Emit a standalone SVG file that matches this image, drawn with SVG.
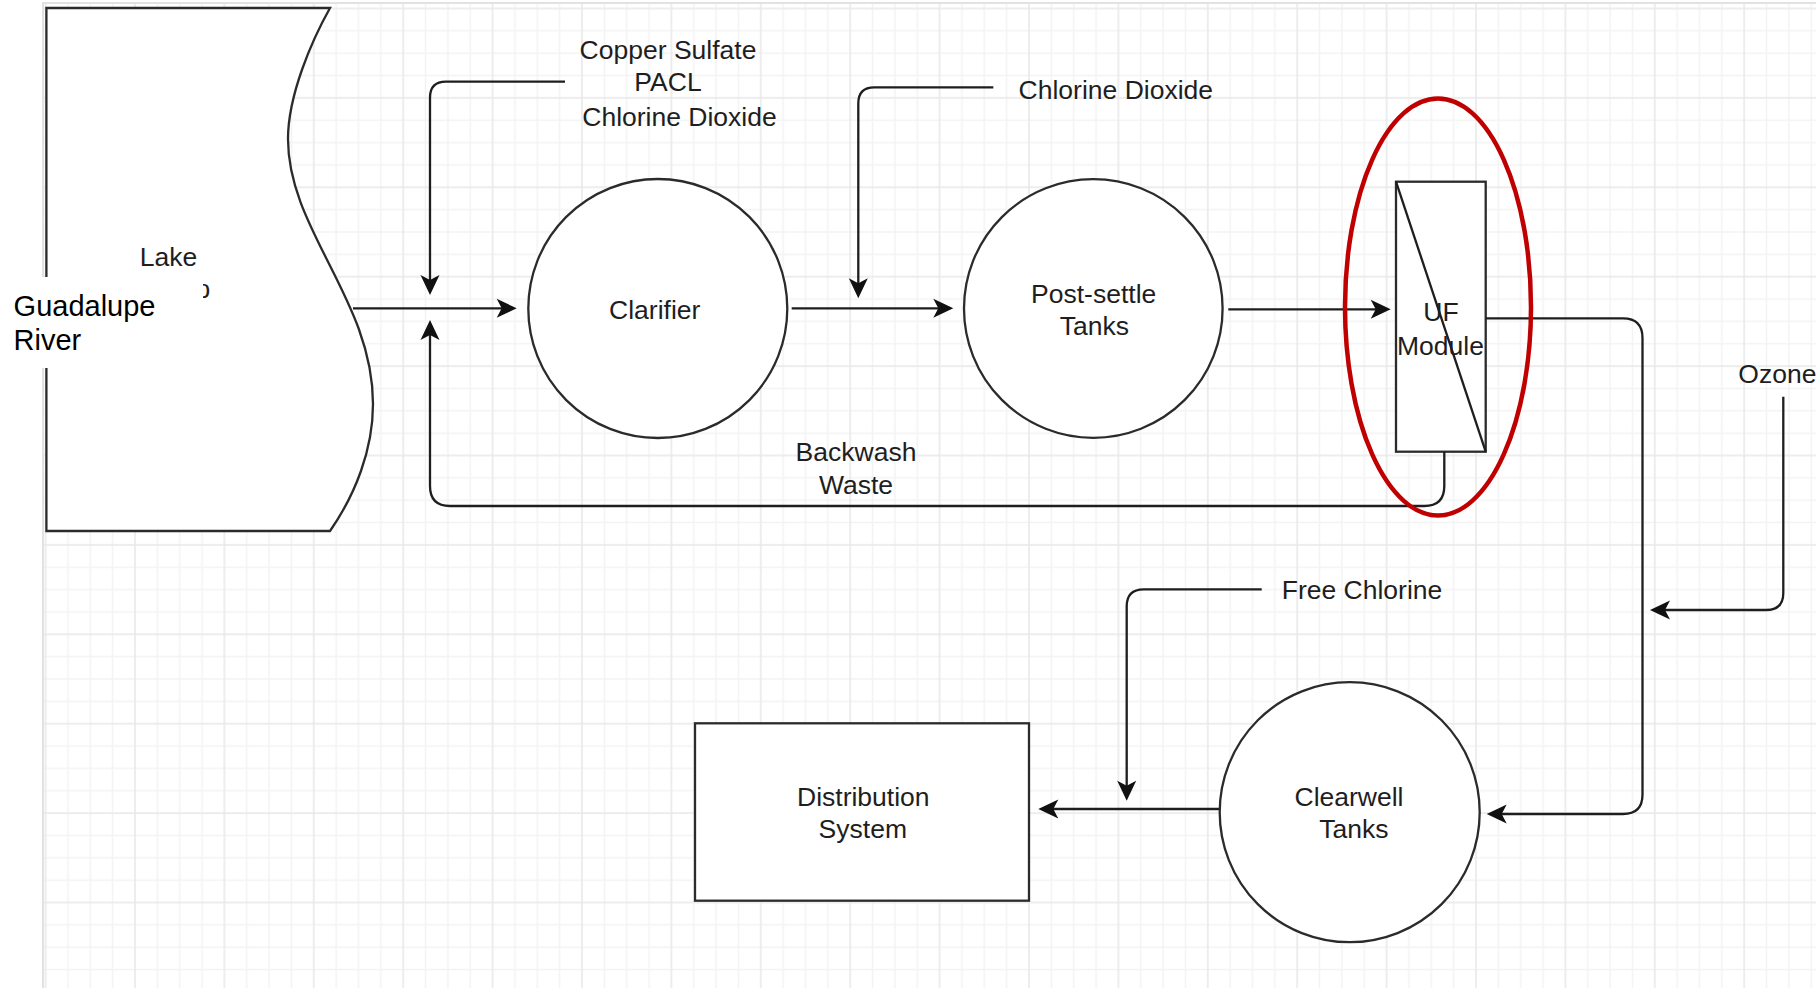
<svg xmlns="http://www.w3.org/2000/svg" width="1816" height="988" viewBox="0 0 1816 988">
  <style>
    .t { font-family: "Liberation Sans", Arial, Helvetica, sans-serif; font-size: 26.5px; fill: #1e1e1e; }
    .c { text-anchor: middle; }
    .g { font-family: "Liberation Sans", Arial, Helvetica, sans-serif; font-size: 29px; fill: #000; }
    .node { fill: #fff; stroke: #2b2b2b; stroke-width: 2.3; }
    .edge { fill: none; stroke: #1e1e1e; stroke-width: 2.3; marker-end: url(#arr); }
    .plain { fill: none; stroke: #1e1e1e; stroke-width: 2.3; }
    .hl { fill: none; stroke: #c00000; stroke-width: 4.5; }
  </style>
  <defs>
    <pattern id="grid" patternUnits="userSpaceOnUse" x="44.6" y="7.5" width="89.4" height="89.4">
      <path d="M23.35 0V89.4M45.7 0V89.4M68.05 0V89.4M0 23.35H89.4M0 45.7H89.4M0 68.05H89.4" stroke="#f3f3f3" stroke-width="1.5" fill="none"/>
      <path d="M1 0V89.4M0 1H89.4" stroke="#e8e8e8" stroke-width="1.5" fill="none"/>
    </pattern>
    <marker id="arr" markerUnits="userSpaceOnUse" markerWidth="26" markerHeight="26" viewBox="-2 -13 26 26" refX="15" refY="0" orient="auto">
      <path d="M0,-9.5 L20,0 L0,9.5 L5,0 Z" fill="#111"/>
    </marker>
    <clipPath id="lakeclip">
      <rect x="203" y="270" width="40" height="40"/>
    </clipPath>
  </defs>

  <rect x="0" y="0" width="1816" height="988" fill="#fff"/>
  <rect x="43" y="3" width="1773" height="985" fill="url(#grid)"/>
  <path d="M43 988V3H1816" fill="none" stroke="#e2e2e2" stroke-width="2"/>

  <g id="lake">
    <path class="node" stroke-width="2.6" d="M46.4,8 H330 C312,40 288,95 288,139 C288,230 373,300 373,404 C373,450 355,495 330,531 H46.4 Z"/>
    <text class="t c" x="168.4" y="266">Lake</text>
    <text class="t" x="195.6" y="298" clip-path="url(#lakeclip)">p</text>
  </g>

  <g id="guadalupe-label">
    <rect x="0" y="277" width="203" height="91" fill="#fff"/>
    <text class="g" x="13.6" y="316">Guadalupe</text>
    <text class="g" x="13.6" y="350">River</text>
  </g>

  <g id="clarifier">
    <circle class="node" cx="657.8" cy="308.5" r="129.5"/>
    <text class="t c" x="654.7" y="319">Clarifier</text>
  </g>

  <g id="post-settle">
    <circle class="node" cx="1093.3" cy="308.5" r="129.3"/>
    <text class="t c" x="1093.7" y="302.7">Post-settle</text>
    <text class="t c" x="1094.3" y="335">Tanks</text>
  </g>

  <g id="uf-module">
    <rect class="node" x="1396" y="181.7" width="89.7" height="270"/>
    <path class="plain" d="M1396,181.7 L1485.7,451.7"/>
    <text class="t c" x="1441" y="320.7">UF</text>
    <text class="t c" x="1440.5" y="355">Module</text>
  </g>

  <g id="clearwell">
    <circle class="node" cx="1349.7" cy="812.2" r="130"/>
    <text class="t c" x="1349" y="806">Clearwell</text>
    <text class="t c" x="1353.8" y="838.3">Tanks</text>
  </g>

  <g id="distribution">
    <rect class="node" stroke-width="2.8" x="695" y="723.3" width="334" height="177.4"/>
    <text class="t c" x="863.3" y="806">Distribution</text>
    <text class="t c" x="862.8" y="838.3">System</text>
  </g>

  <g id="labels">
    <text class="t c" x="668" y="59.3">Copper Sulfate</text>
    <text class="t c" x="668" y="90.7">PACL</text>
    <text class="t c" x="679.5" y="126">Chlorine Dioxide</text>
    <text class="t c" x="1115.8" y="99.3">Chlorine Dioxide</text>
    <text class="t c" x="856" y="461">Backwash</text>
    <text class="t c" x="856" y="494">Waste</text>
    <text class="t c" x="1362" y="599.3">Free Chlorine</text>
    <text class="t" x="1738.3" y="383.3">Ozone</text>
  </g>

  <g id="connectors">
    <path class="edge" d="M353,308.3 H511.7"/>
    <path class="edge" d="M565,81.7 H446 Q430,81.7 430,97.7 V290"/>
    <path class="edge" d="M791.7,308.3 H948.3"/>
    <path class="edge" d="M993.3,87.3 H874.3 Q858.3,87.3 858.3,103.3 V293.3"/>
    <path class="edge" d="M1228.3,309.3 H1385.7"/>
    <path class="edge" d="M1485.7,318.3 H1623 Q1642.5,318.3 1642.5,338 V794.5 Q1642.5,814 1623,814 H1491.7"/>
    <path class="edge" d="M1783.3,396.7 V593 Q1783.3,610 1766,610 H1655"/>
    <path class="edge" d="M1444.3,451.7 V486 Q1444.3,506 1424.3,506 H450 Q430,506 430,486 V325"/>
    <path class="edge" d="M1219,809 H1043.3"/>
    <path class="edge" d="M1261.7,589.3 H1143.7 Q1126.7,589.3 1126.7,606.3 V795.7"/>
  </g>

  <g id="highlight">
    <ellipse class="hl" cx="1438" cy="307" rx="93" ry="208.5"/>
  </g>
</svg>
